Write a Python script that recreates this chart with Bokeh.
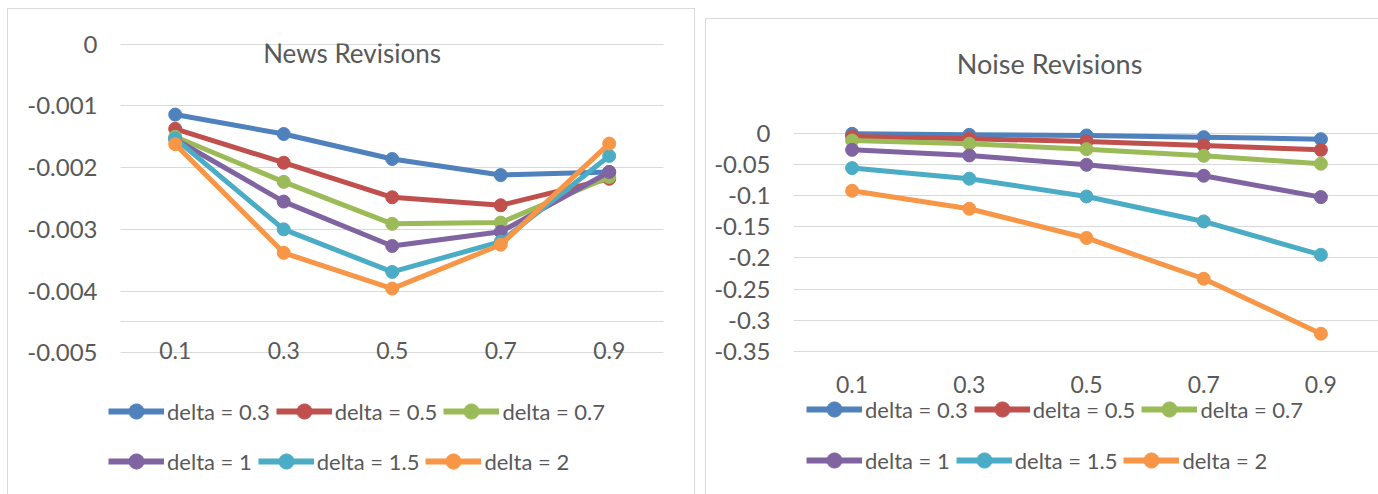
from bokeh.plotting import figure
from bokeh.layouts import row, column
from bokeh.models import Range1d, FixedTicker, Legend, LegendItem, Spacer, Grid
from bokeh.embed import file_html
from bokeh.resources import INLINE
from bokeh.core.properties import value

# ---------------- data ----------------
x_vals = [0.1, 0.3, 0.5, 0.7, 0.9]
x_labels = ["0.1", "0.3", "0.5", "0.7", "0.9"]
series_names = ["delta = 0.3", "delta = 0.5", "delta = 0.7", "delta = 1", "delta = 1.5", "delta = 2"]
colors = ["#4F81BD", "#C0504D", "#9BBB59", "#8064A2", "#4BACC6", "#F79646"]

news_d03 = [-0.00114, -0.001455, -0.00186, -0.00212, -0.00207]
news_d05 = [-0.00137, -0.00192, -0.00248, -0.00261, -0.00218]
news_d07 = [-0.00150, -0.00223, -0.00291, -0.00289, -0.00215]
news_d1 = [-0.00154, -0.00255, -0.00327, -0.00304, -0.00207]
news_d15 = [-0.00153, -0.00300, -0.00369, -0.00320, -0.00181]
news_d2 = [-0.00162, -0.00338, -0.00396, -0.00325, -0.00161]

noise_d03 = [-0.001, -0.0027, -0.0037, -0.0064, -0.0096]
noise_d05 = [-0.0053, -0.009, -0.0133, -0.0197, -0.0267]
noise_d07 = [-0.0117, -0.017, -0.0256, -0.0363, -0.049]
noise_d1 = [-0.0267, -0.0357, -0.0507, -0.0683, -0.1025]
noise_d15 = [-0.056, -0.073, -0.1015, -0.1415, -0.195]
noise_d2 = [-0.0923, -0.1212, -0.168, -0.2334, -0.3215]

news_ticks = [0, -0.001, -0.002, -0.003, -0.004, -0.005]
news_tick_labels = ["0", "-0.001", "-0.002", "-0.003", "-0.004", "-0.005"]
news_grid = [0, -0.001, -0.002, -0.003, -0.004, -0.0045, -0.005]
noise_ticks = [0, -0.05, -0.1, -0.15, -0.2, -0.25, -0.3, -0.35]
noise_tick_labels = ["0", "-0.05", "-0.1", "-0.15", "-0.2", "-0.25", "-0.3", "-0.35"]

news_title = "News Revisions"
noise_title = "Noise Revisions"

FONT = "Lato"
TXT = "#595959"
GRID = "#D9D9D9"
BORDER = "1px solid #D9D9D9"

HAS_CROSS = "cross_bounds" in Grid.properties()


def style_axis(ax, size):
    ax.axis_line_color = None
    ax.major_tick_line_color = None
    ax.minor_tick_line_color = None
    ax.major_tick_out = 0
    ax.major_tick_in = 0
    ax.minor_tick_out = 0
    ax.minor_tick_in = 0
    ax.major_label_text_font = FONT
    ax.major_label_text_font_size = size
    ax.major_label_text_color = TXT


def x_axis_setup(ax, standoff):
    style_axis(ax, "23px")
    ax.ticker = FixedTicker(ticks=x_vals)
    ax.major_label_overrides = {v: l for v, l in zip(x_vals, x_labels)}
    ax.major_label_standoff = standoff


def make_plot(width, height, mb, x_rng, y_rng, yticks, ylabels, ygrid, series, title,
              title_xy, title_size, xaxis_loc, xstand, ystand, border_css):
    p = figure(width=width, height=height, output_backend="svg", toolbar_location=None,
               x_range=Range1d(*x_rng), y_range=Range1d(*y_rng), x_axis_location=xaxis_loc,
               min_border_left=mb[0], min_border_right=mb[1],
               min_border_top=mb[2], min_border_bottom=mb[3])
    p.outline_line_color = None
    p.background_fill_color = "white"
    p.border_fill_color = "white"
    p.styles = border_css

    p.xgrid.grid_line_color = None
    p.ygrid.ticker = FixedTicker(ticks=ygrid)
    p.ygrid.grid_line_color = GRID
    p.ygrid.grid_line_width = 1
    if HAS_CROSS:
        p.ygrid.cross_bounds = (0, 1)

    if xaxis_loc is not None:
        x_axis_setup(p.xaxis[0], xstand)
    style_axis(p.yaxis[0], "24px")
    p.yaxis.ticker = FixedTicker(ticks=yticks)
    p.yaxis.major_label_overrides = {v: l for v, l in zip(yticks, ylabels)}
    p.yaxis.major_label_standoff = ystand

    for col, ys in zip(colors, series):
        p.line(x_vals, ys, line_color=col, line_width=5, line_join="round")
        p.scatter(x_vals, ys, size=13, fill_color=col, line_color=col, marker="circle")

    p.text(x=[title_xy[0]], y=[title_xy[1]], text=[title], text_font=value(FONT),
           text_font_size=title_size, text_color=TXT, text_align="center", text_baseline="middle")
    return p


def make_legend_fig(width, height, mb, x_rng, series, locs, border_css, with_axis):
    # legend-only figure; the series glyphs sit outside its visible y range
    p = figure(width=width, height=height, output_backend="svg", toolbar_location=None,
               x_range=Range1d(*x_rng), y_range=Range1d(10, 11),
               x_axis_location="above" if with_axis else None, y_axis_location=None,
               min_border_left=mb[0], min_border_right=mb[1],
               min_border_top=mb[2], min_border_bottom=mb[3])
    p.outline_line_color = None
    p.grid.visible = False
    p.background_fill_color = "white"
    p.border_fill_color = "white"
    p.styles = border_css
    if with_axis:
        x_axis_setup(p.xaxis[0], 0)
    items = []
    for name, col, ys in zip(series_names, colors, series):
        r1 = p.line(x_vals, ys, line_color=col, line_width=6)
        r2 = p.scatter(x_vals, ys, size=13, fill_color=col, line_color=col, marker="circle")
        items.append(LegendItem(label=name, renderers=[r1, r2]))
    for k, loc in enumerate(locs):
        leg = Legend(items=items[3 * k:3 * k + 3], orientation="horizontal", location=loc)
        leg.label_text_font = FONT
        leg.label_text_font_size = "22px"
        leg.label_text_color = TXT
        leg.glyph_width = 56
        leg.glyph_height = 38
        leg.label_height = 38
        leg.label_standoff = 3
        leg.spacing = 6
        leg.padding = 0
        leg.margin = 0
        leg.border_line_alpha = 0
        leg.background_fill_alpha = 0
        p.add_layout(leg, "center")
    return p


news_series = [news_d03, news_d05, news_d07, news_d1, news_d15, news_d2]
noise_series = [noise_d03, noise_d05, noise_d07, noise_d1, noise_d15, noise_d2]

if HAS_CROSS:
    l_mb = (93, 0)
    l_xr = (-0.03585, 1.0609)
    l_ystand = 4
    l_legx = 7
else:
    l_mb = (113, 33)
    l_xr = (0, 1)
    l_ystand = 24
    l_legx = 0

p1 = make_plot(688, 364, (l_mb[0], l_mb[1], 34, 20), l_xr, (-0.005012, 0.000012), news_ticks,
               news_tick_labels, news_grid, news_series, news_title, (0.426, -0.000146), "26px",
               "below", -12, l_ystand,
               {"border-top": BORDER, "border-left": BORDER, "border-right": BORDER,
                "box-sizing": "border-box"})
p1_leg = make_legend_fig(688, 122, (l_mb[0], l_mb[1], 0, 0), l_xr, news_series,
                         [(l_legx, 64), (l_legx, 14)],
                         {"border-left": BORDER, "border-right": BORDER, "box-sizing": "border-box"},
                         False)

p2 = make_plot(673, 346, (87, 0, 0, 13), (0, 1), (-0.3516, 0.1822), noise_ticks, noise_tick_labels,
               noise_ticks, noise_series, noise_title, (0.437, 0.111), "27px", None, 0, 23,
               {"border-top": BORDER, "border-left": BORDER, "box-sizing": "border-box"})
p2_leg = make_legend_fig(673, 130, (87, 0, 28, 0), (0, 1), noise_series, [(13, 66), (13, 15)],
                         {"border-left": BORDER, "box-sizing": "border-box"}, True)

layout = row(Spacer(width=7), column(Spacer(height=8), p1, p1_leg), Spacer(width=10),
             column(Spacer(height=18), p2, p2_leg))

open("out.html", "w").write(file_html(layout, INLINE))
